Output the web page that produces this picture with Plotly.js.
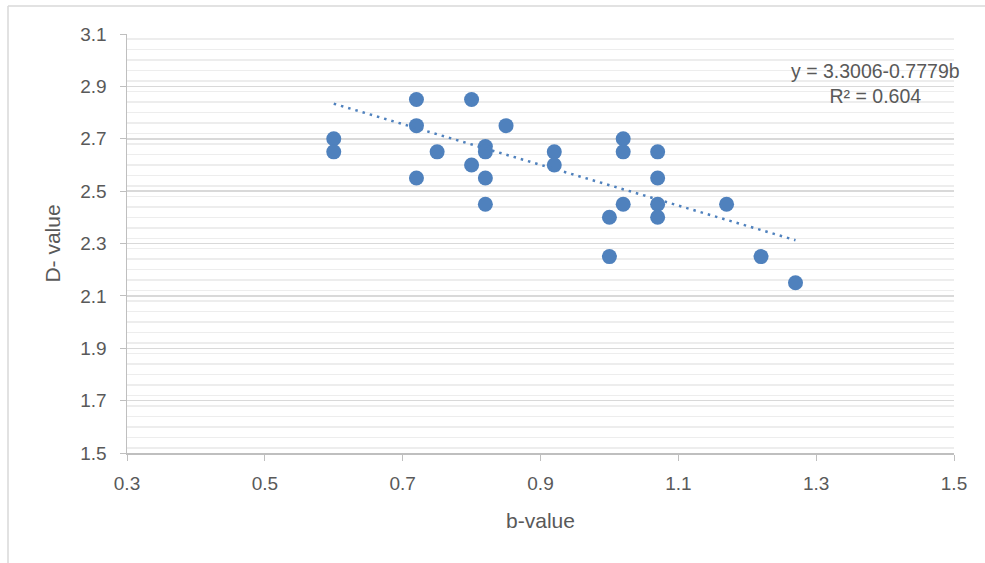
<!DOCTYPE html>
<html>
<head>
<meta charset="utf-8">
<script src="https://cdn.plot.ly/plotly-3.0.1.min.js"></script>
<style>html,body{margin:0;padding:0;background:#fff;}#chart{width:985px;height:563px;}</style>
</head>
<body>
<div id="chart"></div>
<script>
// Data
const bValues = [0.60, 0.60, 0.72, 0.72, 0.72, 0.75, 0.80, 0.80, 0.82, 0.82, 0.82, 0.82, 0.85, 0.92, 0.92, 1.00, 1.00, 1.02, 1.02, 1.02, 1.07, 1.07, 1.07, 1.07, 1.17, 1.22, 1.27];
const dValues = [2.70, 2.65, 2.85, 2.75, 2.55, 2.65, 2.85, 2.60, 2.67, 2.65, 2.55, 2.45, 2.75, 2.65, 2.60, 2.40, 2.25, 2.70, 2.65, 2.45, 2.65, 2.55, 2.45, 2.40, 2.45, 2.25, 2.15];
const trendIntercept = 3.3006;
const trendSlope = -0.7779;
const trendR2 = 0.604;
const trendRange = [0.60, 1.27];

const trendX = trendRange;
const trendY = trendRange.map(b => trendIntercept + trendSlope * b);

const FONT = 'Liberation Sans, Arial, sans-serif';
const TXT = '#595959';
const markerColor = '#4F81BD';

const traces = [
  {
    x: bValues, y: dValues, type: 'scatter', mode: 'markers',
    marker: {color: markerColor, size: 15, line: {color: markerColor, width: 0}},
    showlegend: false, hoverinfo: 'x+y'
  },
  {
    x: trendX, y: trendY, type: 'scatter', mode: 'lines',
    line: {color: markerColor, width: 2.5, dash: '2.5px,5px'},
    showlegend: false, hoverinfo: 'skip'
  }
];

const layout = {
  width: 985, height: 563,
  margin: {l: 127, r: 31, t: 34, b: 110},
  paper_bgcolor: '#ffffff', plot_bgcolor: '#ffffff',
  font: {family: FONT, color: TXT, size: 19},
  xaxis: {
    range: [0.3, 1.5], dtick: 0.2, tick0: 0.3, tickformat: '.1f',
    showgrid: false, zeroline: false,
    showline: true, linecolor: '#bfbfbf', linewidth: 1.5,
    ticks: 'outside', ticklen: 6, tickcolor: '#bfbfbf', tickwidth: 1,
    ticklabelstandoff: 7,
    tickfont: {family: FONT, size: 19, color: TXT},
    title: {text: 'b-value', font: {family: FONT, size: 21, color: TXT}, standoff: 20}
  },
  yaxis: {
    range: [1.5, 3.1], dtick: 0.2, tick0: 1.5, tickformat: '.1f',
    showgrid: true, gridcolor: '#d9d9d9', gridwidth: 1.5, zeroline: false,
    showline: true, linecolor: '#bfbfbf', linewidth: 1.5,
    ticks: 'outside', ticklen: 6, tickcolor: '#bfbfbf', tickwidth: 1,
    ticklabelstandoff: 9,
    tickfont: {family: FONT, size: 19, color: TXT},
    minor: {dtick: 0.04, showgrid: true, gridcolor: '#ededed', gridwidth: 1.5, ticks: ''},
    title: {text: 'D- value', font: {family: FONT, size: 21, color: TXT}, standoff: 14}
  },
  annotations: [{
    xref: 'paper', yref: 'paper',
    x: (875 - 127) / 827, y: (453 - 83) / 419,
    xanchor: 'center', yanchor: 'middle',
    text: 'y = ' + trendIntercept.toFixed(4) + '-' + Math.abs(trendSlope).toFixed(4) + 'b<br>R² = ' + trendR2.toFixed(3),
    showarrow: false, align: 'center',
    font: {family: FONT, size: 19.5, color: TXT}
  }],
  shapes: [
    {type: 'line', xref: 'paper', yref: 'paper',
     x0: (8 - 127) / 827, x1: (8 - 127) / 827, y0: (453 - 6) / 419, y1: (453 - 570) / 419,
     line: {color: '#d9d9d9', width: 1.5}},
    {type: 'line', xref: 'paper', yref: 'paper',
     x0: (8 - 127) / 827, x1: (990 - 127) / 827, y0: (453 - 6) / 419, y1: (453 - 6) / 419,
     line: {color: '#d9d9d9', width: 1.5}}
  ]
};

Plotly.newPlot('chart', traces, layout, {displayModeBar: false, staticPlot: true});
</script>
</body>
</html>
